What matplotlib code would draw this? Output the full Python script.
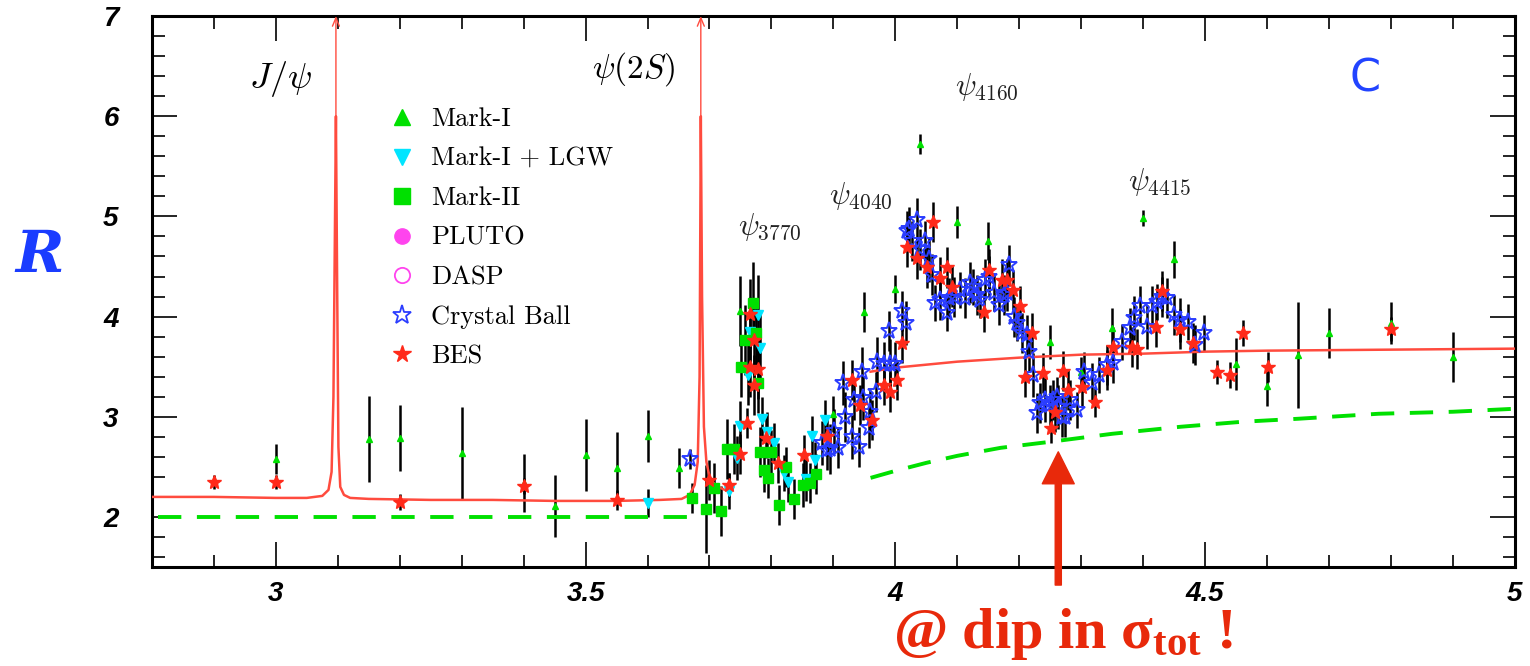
import matplotlib.pyplot as plt
from matplotlib.lines import Line2D
from matplotlib.ticker import FixedLocator, MultipleLocator

# bold serif for the red note underneath (sigma_tot)
plt.rcParams['mathtext.fontset'] = 'custom'
plt.rcParams['mathtext.rm'] = 'Liberation Serif:bold'
plt.rcParams['mathtext.it'] = 'Liberation Serif:bold'
plt.rcParams['mathtext.bf'] = 'Liberation Serif:bold'

# ---- measurements: E_cm [GeV], R, error ----
mk1_E = [3.00, 3.15, 3.20, 3.30, 3.40, 3.45, 3.50, 3.55, 3.60, 3.65,
         3.75, 3.90, 3.95, 4.00, 4.04, 4.10, 4.15, 4.25, 4.30, 4.35,
         4.40, 4.45, 4.55, 4.60, 4.65, 4.70, 4.80, 4.90]
mk1_R = [2.58, 2.78, 2.79, 2.64, 2.34, 2.11, 2.62, 2.49, 2.81, 2.49,
         4.06, 3.03, 4.05, 4.28, 5.72, 4.94, 4.75, 3.75, 3.45, 3.89,
         4.98, 4.57, 3.53, 3.31, 3.62, 3.84, 3.94, 3.60]
mk1_err = [0.15, 0.43, 0.33, 0.46, 0.29, 0.31, 0.36, 0.36, 0.26, 0.20,
           0.35, 0.18, 0.20, 0.14, 0.10, 0.16, 0.19, 0.17, 0.15, 0.20,
           0.08, 0.18, 0.26, 0.20, 0.53, 0.25, 0.21, 0.25]

lgw_E = [3.600, 3.731, 3.745, 3.750, 3.762, 3.766, 3.778, 3.782, 3.785,
         3.793, 3.804, 3.820, 3.826, 3.855, 3.865, 3.871, 3.886]
lgw_R = [2.14, 2.26, 2.59, 2.91, 3.42, 3.85, 4.02, 3.69, 2.98,
         2.85, 2.74, 2.44, 2.35, 2.38, 2.81, 2.57, 2.97]
lgw_err = [0.14, 0.18, 0.22, 0.25, 0.30, 0.35, 0.40, 0.35, 0.22,
           0.20, 0.20, 0.18, 0.20, 0.22, 0.20, 0.18, 0.20]

mk2_E = [3.671, 3.694, 3.707, 3.718, 3.728, 3.739, 3.751, 3.758, 3.770, 3.775,
         3.779, 3.781, 3.788, 3.794, 3.800, 3.812, 3.824, 3.837, 3.851, 3.862, 3.872]
mk2_R = [2.19, 2.08, 2.29, 2.06, 2.68, 2.68, 3.50, 3.77, 4.14, 3.84,
         3.34, 2.65, 2.47, 2.39, 2.65, 2.12, 2.50, 2.18, 2.32, 2.34, 2.43]
mk2_err = [0.15, 0.44, 0.25, 0.25, 0.30, 0.25, 0.30, 0.35, 0.40, 0.35,
           0.30, 0.25, 0.22, 0.20, 0.22, 0.20, 0.20, 0.20, 0.22, 0.20, 0.20]

cb_E = [3.668, 3.882, 3.889, 3.895, 3.901, 3.908, 3.915, 3.919, 3.930, 3.933,
        3.941, 3.946, 3.948, 3.957, 3.959, 3.968, 3.970, 3.981, 3.989, 3.992,
        4.000, 4.011, 4.018, 4.019, 4.022, 4.027, 4.035, 4.040, 4.048, 4.054,
        4.059, 4.064, 4.072, 4.083, 4.086, 4.094, 4.105, 4.113, 4.121, 4.126,
        4.132, 4.137, 4.145, 4.151, 4.159, 4.167, 4.175, 4.181, 4.183, 4.191,
        4.196, 4.204, 4.212, 4.215, 4.223, 4.229, 4.234, 4.242, 4.250, 4.255,
        4.261, 4.263, 4.269, 4.274, 4.282, 4.293, 4.304, 4.317, 4.328, 4.341,
        4.352, 4.366, 4.379, 4.385, 4.395, 4.406, 4.414, 4.422, 4.430, 4.438,
        4.449, 4.460, 4.473, 4.484, 4.498]
cb_R = [2.58, 2.74, 2.67, 2.68, 2.86, 2.69, 3.34, 3.00, 2.80, 3.17,
        2.70, 3.45, 3.19, 2.89, 3.05, 3.25, 3.55, 3.53, 3.86, 3.53,
        3.53, 4.06, 3.94, 4.85, 4.87, 4.75, 4.96, 4.67, 4.75, 4.57,
        4.42, 4.14, 4.17, 4.04, 4.19, 4.20, 4.27, 4.19, 4.34, 4.30,
        4.22, 4.17, 4.37, 4.40, 4.24, 4.12, 4.22, 4.24, 4.51, 4.00,
        3.94, 3.84, 3.82, 3.65, 3.42, 3.04, 3.14, 3.17, 3.12, 3.17,
        3.20, 3.10, 3.00, 3.00, 3.17, 3.07, 3.45, 3.34, 3.42, 3.52,
        3.54, 3.75, 3.89, 3.99, 4.11, 3.90, 4.11, 4.15, 4.20, 4.19,
        4.02, 3.97, 3.95, 3.72, 3.84]
cb_err = [0.10, 0.22, 0.20, 0.25, 0.22, 0.20, 0.22, 0.25, 0.22, 0.20,
          0.20, 0.25, 0.22, 0.20, 0.22, 0.20, 0.25, 0.22, 0.20, 0.25,
          0.22, 0.20, 0.22, 0.20, 0.22, 0.20, 0.22, 0.20, 0.20, 0.22,
          0.20, 0.18, 0.20, 0.18, 0.20, 0.20, 0.18, 0.20, 0.20, 0.18,
          0.20, 0.18, 0.20, 0.20, 0.18, 0.20, 0.20, 0.18, 0.20, 0.20,
          0.18, 0.20, 0.20, 0.20, 0.22, 0.20, 0.20, 0.22, 0.20, 0.20,
          0.20, 0.22, 0.20, 0.20, 0.20, 0.18, 0.20, 0.20, 0.18, 0.20,
          0.20, 0.18, 0.20, 0.22, 0.20, 0.22, 0.20, 0.18, 0.20, 0.20,
          0.20, 0.22, 0.18, 0.20, 0.18]

bes_E = [2.900, 3.000, 3.200, 3.400, 3.550, 3.700, 3.731, 3.750, 3.760, 3.765,
         3.766, 3.772, 3.772, 3.779, 3.792, 3.810, 3.852, 3.889, 3.930, 3.943,
         3.962, 3.981, 3.992, 4.002, 4.011, 4.019, 4.035, 4.051, 4.061, 4.072,
         4.083, 4.092, 4.143, 4.151, 4.172, 4.180, 4.190, 4.202, 4.209, 4.220,
         4.239, 4.251, 4.257, 4.270, 4.279, 4.301, 4.322, 4.341, 4.352, 4.382,
         4.390, 4.421, 4.431, 4.460, 4.481, 4.520, 4.540, 4.561, 4.601, 4.800]
bes_R = [2.35, 2.35, 2.15, 2.31, 2.17, 2.37, 2.32, 2.63, 2.94, 3.50,
         4.03, 3.77, 3.32, 3.48, 2.79, 2.54, 2.62, 2.81, 3.37, 3.12,
         2.97, 3.32, 3.25, 3.37, 3.74, 4.69, 4.58, 4.49, 4.94, 4.39,
         4.49, 4.30, 4.05, 4.47, 4.37, 4.37, 4.27, 4.11, 3.40, 3.84,
         3.44, 2.89, 3.05, 3.46, 3.27, 3.30, 3.15, 3.47, 3.70, 3.70,
         3.68, 3.90, 4.26, 3.88, 3.74, 3.45, 3.42, 3.84, 3.50, 3.88]
bes_err = [0.07, 0.07, 0.08, 0.08, 0.10, 0.20, 0.12, 0.20, 0.15, 0.30,
           0.35, 0.40, 0.30, 0.30, 0.20, 0.20, 0.20, 0.20, 0.20, 0.20,
           0.20, 0.20, 0.20, 0.20, 0.20, 0.20, 0.20, 0.20, 0.20, 0.20,
           0.20, 0.20, 0.20, 0.20, 0.20, 0.20, 0.20, 0.20, 0.20, 0.20,
           0.20, 0.15, 0.20, 0.20, 0.20, 0.20, 0.15, 0.20, 0.20, 0.20,
           0.20, 0.20, 0.20, 0.20, 0.20, 0.12, 0.13, 0.13, 0.15, 0.12]

# ---- fitted curves ----
fit1_E = [2.80, 2.90, 3.00, 3.05, 3.075, 3.085, 3.090, 3.093, 3.095, 3.097,
          3.099, 3.101, 3.104, 3.110, 3.12, 3.15, 3.25, 3.35, 3.45, 3.55,
          3.62, 3.655, 3.668, 3.676, 3.681, 3.684, 3.686, 3.688, 3.691, 3.695,
          3.700, 3.710, 3.725]
fit1_R = [2.20, 2.20, 2.19, 2.19, 2.21, 2.27, 2.45, 3.20, 4.60, 6.00,
          4.30, 2.70, 2.30, 2.22, 2.19, 2.18, 2.17, 2.17, 2.16, 2.16,
          2.17, 2.18, 2.22, 2.32, 2.55, 3.40, 6.00, 4.20, 2.90, 2.55,
          2.40, 2.31, 2.27]
fit2_E = [3.96, 4.00, 4.10, 4.20, 4.30, 4.40, 4.50, 4.60, 4.80, 5.00]
fit2_R = [3.45, 3.49, 3.55, 3.59, 3.62, 3.63, 3.65, 3.66, 3.67, 3.68]

bkg1_E = [2.81, 3.668]
bkg1_R = [2.00, 2.00]
bkg2_E = [3.96, 4.00, 4.05, 4.10, 4.17, 4.25, 4.35, 4.46, 4.56, 4.65, 4.78, 4.90, 5.00]
bkg2_R = [2.39, 2.46, 2.54, 2.61, 2.69, 2.75, 2.83, 2.90, 2.95, 2.98, 3.03, 3.05, 3.08]

peaks = [(3.097, r'$J/\psi$'), (3.686, r'$\psi(2S)$')]
states = [(3.797, 4.89, r'$\psi_{3770}$'), (3.944, 5.20, r'$\psi_{4040}$'),
          (4.148, 6.29, r'$\psi_{4160}$'), (4.427, 5.34, r'$\psi_{4415}$')]

red = '#ff4b3e'
green = '#00e000'
note_red = '#e8290b'

fig = plt.figure(figsize=(15.3, 6.66), dpi=100)
ax = fig.add_axes([0.0993, 0.1486, 0.8908, 0.8273])

# theory curve and continuum
ax.plot(fit1_E, fit1_R, color=red, lw=1.8, zorder=4)
ax.plot(fit2_E, fit2_R, color=red, lw=1.8, zorder=4)
ax.plot(bkg1_E, bkg1_R, color=green, lw=2.8, ls=(0, (6, 4)), zorder=4)
ax.plot(bkg2_E, bkg2_R, color=green, lw=2.8, ls=(0, (6, 4)), zorder=4)
for e, _ in peaks:
    ax.annotate('', xy=(e, 7.0), xytext=(e, 6.0),
                arrowprops=dict(arrowstyle='->,head_length=0.6,head_width=0.25',
                                color=red, lw=1.0, shrinkA=0, shrinkB=0))

# error bars then markers
for E, R, err in [(mk1_E, mk1_R, mk1_err), (lgw_E, lgw_R, lgw_err),
                  (mk2_E, mk2_R, mk2_err), (cb_E, cb_R, cb_err),
                  (bes_E, bes_R, bes_err)]:
    ax.errorbar(E, R, yerr=err, fmt='none', ecolor='black', elinewidth=1.8,
                capsize=0, zorder=2)

ax.plot(mk1_E, mk1_R, ls='none', marker='^', ms=4.5, color=green, mec=green, zorder=5)
ax.plot(lgw_E, lgw_R, ls='none', marker='v', ms=7, color='#00e5ff', mec='#00e5ff', zorder=5)
ax.plot(mk2_E, mk2_R, ls='none', marker='s', ms=7, color=green, mec=green, zorder=5)
ax.plot(cb_E, cb_R, ls='none', marker='*', ms=12.5, mfc='none', mec='#2b3dff', mew=1.4, zorder=6)
ax.plot(bes_E, bes_R, ls='none', marker='*', ms=10, color='#ff2a1a', mec='#ff2a1a', zorder=6)

ax.set_xlim(2.8, 5.0)
ax.set_ylim(1.5, 7.0)

ax.xaxis.set_major_locator(FixedLocator([3, 3.5, 4, 4.5, 5]))
ax.xaxis.set_minor_locator(MultipleLocator(0.1))
ax.yaxis.set_major_locator(FixedLocator([2, 3, 4, 5, 6, 7]))
ax.yaxis.set_minor_locator(MultipleLocator(0.2))
ax.set_xticklabels(['3', '3.5', '4', '4.5', '5'])
ax.set_yticklabels(['2', '3', '4', '5', '6', '7'])
ax.tick_params(which='both', direction='in', top=True, right=True, width=1.2)
ax.tick_params(which='major', length=18)
ax.tick_params(which='minor', length=9)
ax.tick_params(axis='x', pad=10)
ax.tick_params(axis='y', pad=24)
for lab in ax.get_xticklabels() + ax.get_yticklabels():
    lab.set_fontfamily('Liberation Sans')
    lab.set_fontweight('bold')
    lab.set_fontstyle('italic')
    lab.set_fontsize(20)
for sp in ax.spines.values():
    sp.set_linewidth(2.2)

# resonance labels
ax.text(3.007, 6.37, peaks[0][1], fontsize=26, ha='center', va='center',
        math_fontfamily='cm')
ax.text(3.577, 6.47, peaks[1][1], fontsize=24, ha='center', va='center',
        math_fontfamily='cm')
for e, r, s in states:
    ax.text(e, r, s, fontsize=22, ha='center', va='center', color='#222222',
            math_fontfamily='cm')
ax.text(4.758, 6.37, 'C', fontsize=32, color='#2244ff', ha='center', va='center',
        fontfamily='DejaVu Sans')

# legend
handles = [
    Line2D([], [], ls='none', marker='^', ms=12, color=green),
    Line2D([], [], ls='none', marker='v', ms=12, color='#00e5ff'),
    Line2D([], [], ls='none', marker='s', ms=11, color=green),
    Line2D([], [], ls='none', marker='o', ms=11, color='#ff44ee'),
    Line2D([], [], ls='none', marker='o', ms=11, mfc='none', mec='#ff44ee', mew=1.3),
    Line2D([], [], ls='none', marker='*', ms=14, mfc='none', mec='#2b3dff', mew=1.3),
    Line2D([], [], ls='none', marker='*', ms=13, color='#ff2a1a'),
]
labels = ['Mark-I', 'Mark-I + LGW', 'Mark-II', 'PLUTO', 'DASP', 'Crystal Ball', 'BES']
ax.legend(handles, labels, loc='upper left', bbox_to_anchor=(0.164, 0.858),
          frameon=False, borderpad=0, handlelength=1.0, handletextpad=0.6,
          labelspacing=0.6, prop={'family': 'cmr10', 'size': 19})

# axis title
fig.text(40 / 1530, 1 - 256 / 666, 'R', fontsize=42, color='#1a3cff', ha='center',
         va='center', fontfamily='DejaVu Serif', fontweight='bold', fontstyle='italic')

# note pointing at the dip
ax.annotate('', xy=(4.263, 2.65), xytext=(4.263, 1.32), annotation_clip=False,
            arrowprops=dict(arrowstyle='simple,head_length=1.15,head_width=1.15,tail_width=0.22',
                            color=note_red, shrinkA=0, shrinkB=0, mutation_scale=20))
fig.text(893 / 1530, 1 - 648 / 666, r'@ dip in $\sigma_{\rm tot}$ !', fontsize=42,
         color=note_red, ha='left', va='baseline', fontfamily='Liberation Serif',
         fontweight='bold')

fig.savefig('out.png', dpi=100)
